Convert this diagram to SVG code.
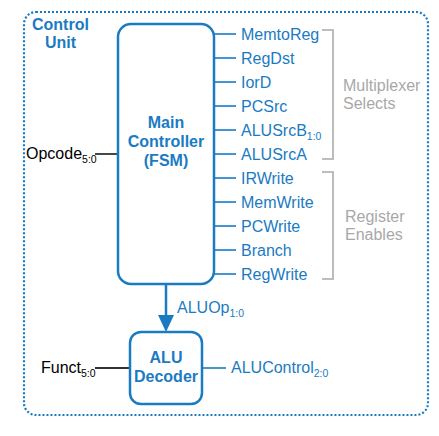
<svg xmlns="http://www.w3.org/2000/svg" width="439" height="436" viewBox="0 0 439 436">
<style>
.blue{fill:#1a7bc3;font-family:"Liberation Sans",Arial,sans-serif}
.sig{font-size:16px}
.bold{font-weight:bold;font-size:16px}
.grey{fill:#a8a8a8;font-family:"Liberation Sans",Arial,sans-serif;font-size:16px}
.blk{fill:#000;font-family:"Liberation Sans",Arial,sans-serif;font-size:16px}
.sub{font-size:10.5px}
.box{fill:#fff;stroke:#1a7bc3;stroke-width:2.5}
.wire{stroke:#1a7bc3;stroke-width:1.6;fill:none}
.kwire{stroke:#333;stroke-width:1.8;fill:none}
.br{stroke:#bdbdbd;stroke-width:2;fill:none}
</style>
<g id="control-unit">
<rect x="24" y="12" width="404" height="403" rx="12" fill="none" stroke="#1a7bc3" stroke-width="2.2" stroke-dasharray="2,2"/>
<text class="blue bold" x="32" y="30">Control</text>
<text class="blue bold" x="45" y="48">Unit</text>
</g>
<g id="connectors">
<line class="kwire" x1="95" y1="154" x2="118" y2="154"/>
<line class="kwire" x1="95" y1="368" x2="130" y2="368"/>
<line class="wire" x1="202" y1="368" x2="226" y2="368"/>
<line x1="166" y1="284" x2="166" y2="316" stroke="#1a7bc3" stroke-width="2.5"/>
<path d="M158,315 L174,315 L166,332 Z" fill="#1a7bc3"/>
<g class="wire">
<line x1="214" y1="34" x2="236" y2="34"/>
<line x1="214" y1="58" x2="236" y2="58"/>
<line x1="214" y1="82" x2="236" y2="82"/>
<line x1="214" y1="106" x2="236" y2="106"/>
<line x1="214" y1="130" x2="236" y2="130"/>
<line x1="214" y1="154" x2="236" y2="154"/>
<line x1="214" y1="178" x2="236" y2="178"/>
<line x1="214" y1="202" x2="236" y2="202"/>
<line x1="214" y1="226" x2="236" y2="226"/>
<line x1="214" y1="250" x2="236" y2="250"/>
<line x1="214" y1="274" x2="236" y2="274"/>
</g>
<path class="br" d="M322,30 L333,30 L333,159 L322,159"/>
<path class="br" d="M322,172 L333,172 L333,279 L322,279"/>
</g>
<g id="main-controller">
<rect class="box" x="118" y="24" width="96" height="260" rx="13"/>
<text class="blue bold" x="166" y="128" text-anchor="middle">Main</text>
<text class="blue bold" x="166" y="147" text-anchor="middle">Controller</text>
<text class="blue bold" x="166" y="166" text-anchor="middle">(FSM)</text>
</g>
<g id="alu-decoder">
<rect class="box" x="130" y="332" width="72" height="72" rx="11"/>
<text class="blue bold" x="166" y="363" text-anchor="middle">ALU</text>
<text class="blue bold" x="166" y="382" text-anchor="middle">Decoder</text>
</g>
<g id="labels">
<text class="blue sig" x="241" y="40">MemtoReg</text>
<text class="blue sig" x="241" y="64">RegDst</text>
<text class="blue sig" x="241" y="88">IorD</text>
<text class="blue sig" x="241" y="112">PCSrc</text>
<text class="blue sig" x="241" y="136">ALUSrcB<tspan class="sub" dy="4">1:0</tspan></text>
<text class="blue sig" x="241" y="160">ALUSrcA</text>
<text class="blue sig" x="241" y="184">IRWrite</text>
<text class="blue sig" x="241" y="208">MemWrite</text>
<text class="blue sig" x="241" y="232">PCWrite</text>
<text class="blue sig" x="241" y="256">Branch</text>
<text class="blue sig" x="241" y="280">RegWrite</text>
<text class="grey" x="343" y="91">Multiplexer</text>
<text class="grey" x="343" y="109">Selects</text>
<text class="grey" x="345" y="222">Register</text>
<text class="grey" x="345" y="240">Enables</text>
<text class="blk" x="26" y="159">Opcode<tspan class="sub" dy="4">5:0</tspan></text>
<text class="blk" x="41" y="373">Funct<tspan class="sub" dy="4">5:0</tspan></text>
<text class="blue sig" x="177" y="313">ALUOp<tspan class="sub" dy="4">1:0</tspan></text>
<text class="blue sig" x="231" y="373">ALUControl<tspan class="sub" dy="4">2:0</tspan></text>
</g>
</svg>
